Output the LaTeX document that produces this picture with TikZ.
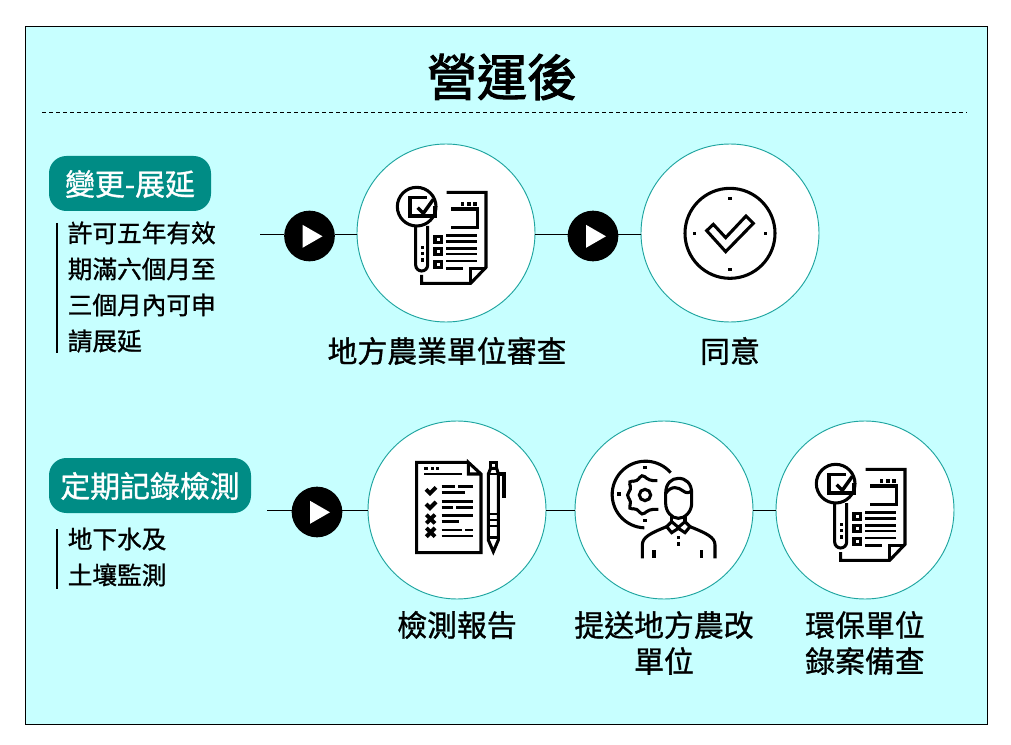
\documentclass[tikz,border=0pt]{standalone}
\usepackage{fontspec}
\setmainfont[RawFeature={embolden=1}]{Noto Sans CJK TC}
\newfontfamily\titlefont[RawFeature={embolden=2}]{Noto Sans CJK TC}
\usetikzlibrary{calc}
\definecolor{panel}{HTML}{C7FFFF}
\definecolor{teal1}{HTML}{008C85}
\definecolor{ring}{HTML}{1FA5A0}
\tikzset{
  panelbox/.style={draw=black,line width=0.75pt,fill=panel,outer sep=0pt},
  bigcircle/.style={circle,draw=ring,line width=0.7pt,fill=white,minimum size=133.5pt,inner sep=0pt,outer sep=0pt},
  playbtn/.style={circle,fill=black,minimum size=38pt,inner sep=0pt,outer sep=0pt,
    path picture={\fill[white] ($(path picture bounding box.center)+(-7,-11.2)$)--++(0,23)--++(20,-11.5)--cycle;}},
  pill/.style={rounded corners=13pt,fill=teal1,text=white,inner sep=0pt,outer sep=0pt},
  pilltext/.style={text=white,font=\fontsize{22.4pt}{27pt}\selectfont},
  bodytext/.style={anchor=west,align=left,inner sep=0pt,font=\fontsize{18.5pt}{27pt}\selectfont},
  label/.style={align=center,inner sep=0pt,font=\fontsize{22.4pt}{27pt}\selectfont},
  conn/.style={draw=black,line width=0.6pt},
  bar/.style={draw=black,line width=1.5pt},
  ico/.style={line width=2.3pt,draw=black,line join=miter},
  tk/.style={line width=2.1pt,draw=black},
  searchdoc/.pic={
    \begin{scope}[x=.25pt,y=-.25pt]
      \draw[ico] (110,110) circle[radius=58];
      \draw[ico] (107,168)--(107,285) arc[start angle=180,end angle=0,radius=18]--(143,168);
      \foreach \q in {232,250,270}\fill (127,\q) ++(-5,-5) rectangle ++(10,10);
      \draw[ico] (140,82)--(90,82)--(90,138)--(165,138)--(165,108);
      \draw[ico,line width=2.6pt] (113,113)--(130,130)--(160,88);
      \draw[ico] (200,67)--(318,67)--(318,292)--(272,340)--(125,340)--(125,315);
      \draw[ico] (318,295)--(272,295)--(272,340);
      \foreach \q in {248,267,285}\fill (\q,102) ++(-5,-5) rectangle ++(10,10);
      \draw[ico] (213,117)--(292,117)--(292,172)--(213,172);
      \foreach \q in {208,245,283}\draw[ico] (165,\q-9) rectangle (185,\q+9);
      \foreach \q in {197,215,235,252,273}\draw[tk] (198,\q)--(292,\q);
      \draw[tk] (198,295)--(248,295);
    \end{scope}
  },
  okclock/.pic={
    \begin{scope}[x=.25pt,y=-.25pt]
      \draw[ico] (210,190) circle[radius=135];
      \foreach \a/\b in {210/85,210/298,103/190,317/190}\fill (\a,\b) ++(-5,-5) rectangle ++(10,10);
      \draw[ico] (140,182)--(160,163)--(197,203)--(258,138)--(280,160)--(197,245)--cycle;
    \end{scope}
  },
  listdoc/.pic={
    \begin{scope}[x=.25pt,y=-.25pt]
      \draw[ico] (205,37)--(50,37)--(50,308)--(243,308)--(243,72)--(205,37)--(205,72)--(243,72);
      \foreach \q in {78,97,113}\fill (\q,55) ++(-5,-5) rectangle ++(10,10);
      \draw[tk] (72,72)--(187,72);
      \draw[ico,line width=3pt] (78,118)--(90,130)--(108,112);
      \draw[ico,line width=3pt] (78,162)--(90,174)--(108,156);
      \foreach \q in {207,247}{\draw[ico,line width=3pt] (79,\q-13)--(105,\q+13) (105,\q-13)--(79,\q+13);}
      \foreach \a/\b/\c in {125/165/110,175/220/110,125/195/128,125/220/155,125/160/172,168/220/172,125/220/197,125/178/215,125/187/240,195/220/240,125/220/258}
        \draw[tk] (\a,\c)--(\b,\c);
      \draw[ico] (272,55)--(272,37)--(290,37)--(290,55);
      \draw[ico] (265,72)--(265,270)--(280,305)--(295,270)--(295,72)--(290,55)--(272,55)--cycle;
      \draw[ico] (295,72)--(312,72)--(312,145);
      \foreach \q in {72,192,210,228,262}\draw[tk] (265,\q)--(295,\q);
    \end{scope}
  },
  gearman/.pic={
    \begin{scope}[x=.25pt,y=-.25pt]
      \draw[ico,line cap=butt] (212,68) arc[start angle=-41,end angle=-268,radius=100];
      \foreach \a/\b in {135/52,135/212,57/132}\fill (\a,\b) ++(-5,-5) rectangle ++(10,10);
      \draw[ico] (135,135) circle[radius=17];
      \draw[ico,rounded corners=3pt] (172,92)--(148,92)--(125,72)--(112,95)--(85,92)--(95,118)--(78,135)--(95,155)--(85,178)--(112,175)--(125,197)--(148,178)--(175,178);
      \draw[ico,fill=white] (197,130) .. controls (197,100) and (215,85) .. (235,85) .. controls (258,85) and (275,100) .. (275,130)--(275,160) .. controls (275,185) and (255,205) .. (235,205) .. controls (215,205) and (197,185) .. (197,160)--cycle;
      \draw[ico] (197,130) .. controls (215,105) and (235,112) .. (248,122) .. controls (258,130) and (268,130) .. (275,122);
      \draw[ico] (215,197)--(215,215) (255,197)--(255,215);
      \draw[ico] (200,230)--(215,215)--(235,232)--(255,215)--(270,230)--(255,248)--(235,235)--(215,248)--cycle;
      \draw[ico] (127,325)--(127,285) .. controls (127,262) and (150,250) .. (200,230);
      \draw[ico] (345,325)--(345,285) .. controls (345,262) and (320,250) .. (270,230);
      \draw[ico] (162,300)--(162,325) (305,300)--(305,325);
      \foreach \q in {262,282}\fill (235,\q) ++(-5,-5) rectangle ++(10,10);
    \end{scope}
  }
}
\begin{document}
\begin{tikzpicture}[x=.75pt,y=-.75pt]
\useasboundingbox (0,0) rectangle (1011,745);
\fill[white] (0,0) rectangle (1011,745);
\node[panelbox,anchor=north west,minimum width=721.5pt,minimum height=522.75pt,inner sep=0pt] (frame) at (25.5,27) {};
\node[inner sep=0pt,font=\fontsize{37.5pt}{40pt}\selectfont\titlefont] (title) at (502,77) {營運後};
\coordinate (dl) at (42,113); \coordinate (dr) at (967,113);
\draw[black,line width=0.75pt,dash pattern=on 3pt off 2.25pt] (dl)--(dr);
% upper row
\node[pill,minimum width=121.5pt,minimum height=41.25pt] (pa) at (130,183.5) {};
\node[pilltext] (pat) at (130,184) {變更-展延};
\node[bodytext] (ta) at (67.5,287) {許可五年有效\\期滿六個月至\\三個月內可申\\請展延};
\coordinate (ba1) at (57,223); \coordinate (ba2) at (57,353);
\draw[bar] (ba1)--(ba2);
\node[bigcircle] (c1) at (446,233) {};
\node[bigcircle] (c2) at (730,233) {};
\node[playbtn] (p1) at (309.5,236) {};
\node[playbtn] (p2) at (593,236) {};
\coordinate (s1) at (260,234);
\draw[conn] (s1)--(s1 -| p1.west);
\draw[conn] (s1 -| p1.east)--(s1 -| c1.west);
\draw[conn] (s1 -| c1.east)--(s1 -| p2.west);
\draw[conn] (s1 -| p2.east)--(s1 -| c2.west);
\pic at (380,170) {searchdoc};
\pic at (660,170) {okclock};
\node[label] (l1) at (447,351) {地方農業單位審查};
\node[label] (l2) at (730,351) {同意};
% lower row
\node[pill,minimum width=151.5pt,minimum height=41.25pt] (pb) at (150,485.5) {};
\node[pilltext] (pbt) at (150,486) {定期記錄檢測};
\node[bodytext] (tb) at (67.5,557) {地下水及\\土壤監測};
\coordinate (bb1) at (57,529); \coordinate (bb2) at (57,589);
\draw[bar] (bb1)--(bb2);
\node[bigcircle] (c3) at (457,510) {};
\node[bigcircle] (c4) at (664,510) {};
\node[bigcircle] (c5) at (865,510) {};
\node[playbtn] (p3) at (317,512) {};
\coordinate (s3) at (267,510);
\draw[conn] (s3)--(s3 -| p3.west);
\draw[conn] (s3 -| p3.east)--(s3 -| c3.west);
\draw[conn] (c3.east)--(c4.west);
\draw[conn] (c4.east)--(c5.west);
\pic at (400,450) {listdoc};
\pic at (600,450) {gearman};
\pic at (799,447) {searchdoc};
\node[label] (l3) at (457,625) {檢測報告};
\node[label] (l4) at (664,643) {提送地方農改\\單位};
\node[label] (l5) at (865,643) {環保單位\\錄案備查};
\end{tikzpicture}
\end{document}
